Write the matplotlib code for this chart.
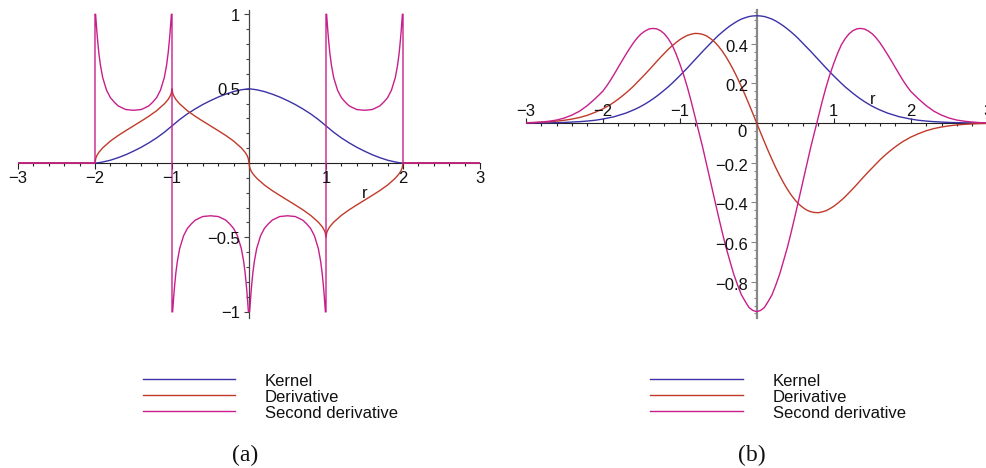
import numpy as np
import matplotlib
matplotlib.use("Agg")
import matplotlib.pyplot as plt
from matplotlib.lines import Line2D
from matplotlib.ticker import FixedLocator, MultipleLocator

W, H = 987, 468
nan = np.nan

plt.rcParams['font.family'] = ['Liberation Sans', 'DejaVu Sans']

KERNEL_COLOR = '#3a32a6'
DERIV_COLOR = '#c03a2a'
SECOND_COLOR = '#c81e8c'
series_labels = ['Kernel', 'Derivative', 'Second derivative']
series_colors = [KERNEL_COLOR, DERIV_COLOR, SECOND_COLOR]

# ---------------- panel (a): compactly supported kernel ----------------
a_kernel_r = [-3, -2, -1.95, -1.9, -1.8, -1.7, -1.6, -1.5, -1.4, -1.3, -1.2, -1.1, -1,
              -0.9, -0.8, -0.7, -0.6, -0.5, -0.4, -0.3, -0.2, -0.1, 0,
              0.1, 0.2, 0.3, 0.4, 0.5, 0.6, 0.7, 0.8, 0.9, 1,
              1.1, 1.2, 1.3, 1.4, 1.5, 1.6, 1.7, 1.8, 1.9, 1.95, 2, 3]
a_kernel_v = [0, 0, 0.0024, 0.007, 0.019, 0.036, 0.056, 0.080, 0.106, 0.136, 0.169, 0.207, 0.25,
              0.293, 0.331, 0.364, 0.394, 0.420, 0.444, 0.464, 0.481, 0.493, 0.5,
              0.493, 0.481, 0.464, 0.444, 0.420, 0.394, 0.364, 0.331, 0.293, 0.25,
              0.207, 0.169, 0.136, 0.106, 0.080, 0.056, 0.036, 0.019, 0.007, 0.0024, 0, 0]

a_deriv_r = [-3, -2, -1.99, -1.975, -1.95, -1.9, -1.8, -1.7, -1.6, -1.5, -1.4, -1.3, -1.2, -1.1, -1.05, -1.025, -1.01, -1,
             -0.99, -0.975, -0.95, -0.9, -0.8, -0.7, -0.6, -0.5, -0.4, -0.3, -0.2, -0.1, -0.05, -0.025, -0.01, 0,
             0.01, 0.025, 0.05, 0.1, 0.2, 0.3, 0.4, 0.5, 0.6, 0.7, 0.8, 0.9, 0.95, 0.975, 0.99, 1,
             1.01, 1.025, 1.05, 1.1, 1.2, 1.3, 1.4, 1.5, 1.6, 1.7, 1.8, 1.9, 1.95, 1.975, 1.99, 2, 3]
a_deriv_v = [0, 0, 0.032, 0.051, 0.072, 0.102, 0.148, 0.185, 0.218, 0.25, 0.282, 0.315, 0.352, 0.398, 0.428, 0.45, 0.468, 0.5,
             0.468, 0.45, 0.428, 0.398, 0.352, 0.315, 0.282, 0.25, 0.218, 0.185, 0.148, 0.102, 0.072, 0.051, 0.032, 0,
             -0.032, -0.051, -0.072, -0.102, -0.148, -0.185, -0.218, -0.25, -0.282, -0.315, -0.352, -0.398, -0.428, -0.45, -0.468, -0.5,
             -0.468, -0.45, -0.428, -0.398, -0.352, -0.315, -0.282, -0.25, -0.218, -0.185, -0.148, -0.102, -0.072, -0.051, -0.032, 0, 0]

# second derivative, cut at the plotting window |y| <= 1 (nan = break in the line)
a_second_r = [-3, -2, -2, nan,
              -1.992, -1.985, -1.975, -1.965, -1.95, -1.93, -1.9, -1.85, -1.8, -1.75, -1.7, -1.65, -1.6, -1.5,
              -1.4, -1.35, -1.3, -1.25, -1.2, -1.15, -1.1, -1.07, -1.05, -1.035, -1.025, -1.015, -1.008, nan,
              -1, -1, nan,
              -0.992, -0.985, -0.975, -0.965, -0.95, -0.93, -0.9, -0.85, -0.8, -0.75, -0.7, -0.65, -0.6, -0.5,
              -0.4, -0.35, -0.3, -0.25, -0.2, -0.15, -0.1, -0.07, -0.05, -0.035, -0.025, -0.015, -0.008,
              0.008, 0.015, 0.025, 0.035, 0.05, 0.07, 0.1, 0.15, 0.2, 0.25, 0.3, 0.35, 0.4, 0.5,
              0.6, 0.65, 0.7, 0.75, 0.8, 0.85, 0.9, 0.93, 0.95, 0.965, 0.975, 0.985, 0.992, nan,
              1, 1, nan,
              1.008, 1.015, 1.025, 1.035, 1.05, 1.07, 1.1, 1.15, 1.2, 1.25, 1.3, 1.35, 1.4, 1.5,
              1.6, 1.65, 1.7, 1.75, 1.8, 1.85, 1.9, 1.93, 1.95, 1.965, 1.975, 1.985, 1.992, nan,
              2, 2, 3]
a_second_v = [0, 0, 1.0, nan,
              1.0, 0.95, 0.88, 0.82, 0.74, 0.66, 0.575, 0.49, 0.44, 0.41, 0.385, 0.372, 0.36, 0.355,
              0.36, 0.372, 0.385, 0.41, 0.44, 0.49, 0.575, 0.66, 0.74, 0.82, 0.88, 0.95, 1.0, nan,
              1.0, -1.0, nan,
              -1.0, -0.95, -0.88, -0.82, -0.74, -0.66, -0.575, -0.49, -0.44, -0.41, -0.385, -0.372, -0.36, -0.355,
              -0.36, -0.372, -0.385, -0.41, -0.44, -0.49, -0.575, -0.66, -0.74, -0.82, -0.88, -0.95, -1.0,
              -1.0, -0.95, -0.88, -0.82, -0.74, -0.66, -0.575, -0.49, -0.44, -0.41, -0.385, -0.372, -0.36, -0.355,
              -0.36, -0.372, -0.385, -0.41, -0.44, -0.49, -0.575, -0.66, -0.74, -0.82, -0.88, -0.95, -1.0, nan,
              -1.0, 1.0, nan,
              1.0, 0.95, 0.88, 0.82, 0.74, 0.66, 0.575, 0.49, 0.44, 0.41, 0.385, 0.372, 0.36, 0.355,
              0.36, 0.372, 0.385, 0.41, 0.44, 0.49, 0.575, 0.66, 0.74, 0.82, 0.88, 0.95, 1.0, nan,
              1.0, 0, 0]

# ---------------- panel (b): smooth bell-shaped kernel ----------------
b_r = [-3.0, -2.9, -2.8, -2.7, -2.6, -2.5, -2.4, -2.3, -2.2, -2.1,
       -2.0, -1.95, -1.9, -1.85, -1.8, -1.75, -1.7, -1.65, -1.6, -1.55,
       -1.5, -1.45, -1.4, -1.35, -1.3, -1.25, -1.2, -1.15, -1.1, -1.05,
       -1.0, -0.95, -0.9, -0.85, -0.8, -0.75, -0.7, -0.65, -0.6, -0.55,
       -0.5, -0.45, -0.4, -0.35, -0.3, -0.25, -0.2, -0.15, -0.1, -0.05,
       0.0,
       0.05, 0.1, 0.15, 0.2, 0.25, 0.3, 0.35, 0.4, 0.45, 0.5,
       0.55, 0.6, 0.65, 0.7, 0.75, 0.8, 0.85, 0.9, 0.95, 1.0,
       1.05, 1.1, 1.15, 1.2, 1.25, 1.3, 1.35, 1.4, 1.45, 1.5,
       1.55, 1.6, 1.65, 1.7, 1.75, 1.8, 1.85, 1.9, 1.95, 2.0,
       2.1, 2.2, 2.3, 2.4, 2.5, 2.6, 2.7, 2.8, 2.9, 3.0]
b_kernel_v = [0.0003, 0.0005, 0.001, 0.001, 0.002, 0.003, 0.005, 0.007, 0.010, 0.014,
              0.020, 0.024, 0.028, 0.032, 0.038, 0.044, 0.050, 0.058, 0.066, 0.075,
              0.085, 0.096, 0.108, 0.121, 0.135, 0.150, 0.166, 0.182, 0.200, 0.219,
              0.238, 0.258, 0.278, 0.299, 0.320, 0.341, 0.362, 0.382, 0.402, 0.422,
              0.441, 0.458, 0.474, 0.489, 0.502, 0.514, 0.524, 0.531, 0.537, 0.540,
              0.541,
              0.540, 0.537, 0.531, 0.524, 0.514, 0.502, 0.489, 0.474, 0.458, 0.441,
              0.422, 0.402, 0.382, 0.362, 0.341, 0.320, 0.299, 0.278, 0.258, 0.238,
              0.219, 0.200, 0.182, 0.166, 0.150, 0.135, 0.121, 0.108, 0.096, 0.085,
              0.075, 0.066, 0.058, 0.050, 0.044, 0.038, 0.032, 0.028, 0.024, 0.020,
              0.014, 0.010, 0.007, 0.005, 0.003, 0.002, 0.001, 0.001, 0.0005, 0.0003]
b_deriv_v = [0.0018, 0.0028, 0.0043, 0.0065, 0.0096, 0.014, 0.020, 0.028, 0.039, 0.054,
             0.071, 0.082, 0.093, 0.106, 0.120, 0.135, 0.151, 0.168, 0.186, 0.206,
             0.226, 0.246, 0.267, 0.288, 0.310, 0.331, 0.351, 0.371, 0.389, 0.405,
             0.420, 0.432, 0.442, 0.448, 0.452, 0.451, 0.447, 0.439, 0.426, 0.410,
             0.389, 0.364, 0.335, 0.302, 0.266, 0.227, 0.185, 0.141, 0.095, 0.048,
             0.0,
             -0.048, -0.095, -0.141, -0.185, -0.227, -0.266, -0.302, -0.335, -0.364, -0.389,
             -0.410, -0.426, -0.439, -0.447, -0.451, -0.452, -0.448, -0.442, -0.432, -0.420,
             -0.405, -0.389, -0.371, -0.351, -0.331, -0.310, -0.288, -0.267, -0.246, -0.226,
             -0.206, -0.186, -0.168, -0.151, -0.135, -0.120, -0.106, -0.093, -0.082, -0.071,
             -0.054, -0.039, -0.028, -0.020, -0.014, -0.0096, -0.0065, -0.0043, -0.0028, -0.0018]
b_second_v = [0.001, 0.002, 0.005, 0.009, 0.015, 0.025, 0.040, 0.060, 0.088, 0.122,
              0.160, 0.186, 0.215, 0.247, 0.280, 0.313, 0.345, 0.376, 0.405, 0.430,
              0.450, 0.464, 0.474, 0.477, 0.475, 0.466, 0.450, 0.426, 0.395, 0.351,
              0.300, 0.244, 0.180, 0.108, 0.030, -0.047, -0.125, -0.210, -0.295, -0.380,
              -0.465, -0.547, -0.625, -0.693, -0.760, -0.815, -0.865, -0.899, -0.930, -0.945,
              -0.951,
              -0.945, -0.930, -0.899, -0.865, -0.815, -0.760, -0.693, -0.625, -0.547, -0.465,
              -0.380, -0.295, -0.210, -0.125, -0.047, 0.030, 0.108, 0.180, 0.244, 0.300,
              0.351, 0.395, 0.426, 0.450, 0.466, 0.475, 0.477, 0.474, 0.464, 0.450,
              0.430, 0.405, 0.376, 0.345, 0.313, 0.280, 0.247, 0.215, 0.186, 0.160,
              0.122, 0.088, 0.060, 0.040, 0.025, 0.015, 0.009, 0.005, 0.002, 0.001]

# tick labels
a_xtick_vals = [-3, -2, -1, 1, 2, 3]
a_xtick_text = ['\u22123', '\u22122', '\u22121', '1', '2', '3']
a_ytick_vals = [1, 0.5, -0.5, -1]
a_ytick_text = ['1', '0.5', '\u22120.5', '\u22121']
b_xtick_vals = [-3, -2, -1, 1, 2, 3]
b_xtick_text = ['\u22123', '\u22122', '\u22121', '1', '2', '3']
b_ytick_vals = [0.4, 0.2, -0.2, -0.4, -0.6, -0.8]
b_ytick_text = ['0.4', '0.2', '\u22120.2', '\u22120.4', '\u22120.6', '\u22120.8']

FS = 12

fig = plt.figure(figsize=(W / 100, H / 100), dpi=100)
fig.patch.set_facecolor('white')


def px_box(left, top, right, bottom):
    return [left / W, 1 - bottom / H, (right - left) / W, (bottom - top) / H]


def style_axes(ax, xlim, ylim, ycolor, ylw):
    ax.set_xlim(*xlim)
    ax.set_ylim(*ylim)
    ax.patch.set_visible(False)
    for s in ('top', 'right'):
        ax.spines[s].set_visible(False)
    ax.spines['bottom'].set_position(('data', 0))
    ax.spines['left'].set_position(('data', 0))
    ax.spines['bottom'].set_linewidth(0.8)
    ax.spines['bottom'].set_color('#222222')
    ax.spines['left'].set_linewidth(ylw)
    ax.spines['left'].set_color(ycolor)
    ax.tick_params(labelbottom=False, labelleft=False)
    ax.tick_params(axis='x', which='both', color='#222222', width=0.8)
    ax.tick_params(axis='y', which='both', color=ycolor, width=0.8)


def tick_label(ax, x, y, text, dx, dy, ha):
    ax.annotate(text, xy=(x, y), xytext=(dx, dy), textcoords='offset pixels',
                ha=ha, va='baseline', fontsize=FS, color='#111111', annotation_clip=False)


# ---- panel (a)
axA = fig.add_axes(px_box(18, 10, 480, 318.3))
style_axes(axA, (-3, 3), (-1.045, 1.03), '#444444', 0.9)
axA.xaxis.set_major_locator(FixedLocator([-3, -2, -1, 0, 1, 2, 3]))
axA.xaxis.set_minor_locator(MultipleLocator(0.2))
axA.yaxis.set_major_locator(FixedLocator([-1, -0.5, 0.5, 1]))
axA.yaxis.set_minor_locator(MultipleLocator(0.1))
axA.tick_params(axis='x', which='major', direction='out', length=4.3)
axA.tick_params(axis='x', which='minor', direction='out', length=2.2)
axA.tick_params(axis='y', which='major', direction='out', length=3.6)
axA.tick_params(axis='y', which='minor', direction='out', length=2.2)

axA.plot(a_kernel_r, a_kernel_v, color=KERNEL_COLOR, lw=1.0, zorder=3)
axA.plot(a_deriv_r, a_deriv_v, color=DERIV_COLOR, lw=1.0, zorder=3)
axA.plot(a_second_r, a_second_v, color=SECOND_COLOR, lw=1.0, zorder=3)

for v, t in zip(a_xtick_vals, a_xtick_text):
    tick_label(axA, v, 0, t, 0, -20, 'center')
for v, t in zip(a_ytick_vals, a_ytick_text):
    tick_label(axA, 0, v, t, -9, -6.5, 'right')
axA.text(1.5, -0.232, 'r', ha='center', va='baseline', fontsize=FS, color='#111111')

# ---- panel (b)
axB = fig.add_axes(px_box(525.7, 10, 987.7, 318))
style_axes(axB, (-3, 3), (-0.983, 0.57), '#888888', 1.6)
axB.xaxis.set_major_locator(FixedLocator([-3, -2, -1, 0, 1, 2, 3]))
axB.xaxis.set_minor_locator(MultipleLocator(0.2))
axB.yaxis.set_major_locator(MultipleLocator(0.2))
axB.yaxis.set_minor_locator(MultipleLocator(0.04))
axB.tick_params(axis='x', which='major', direction='in', length=3.6)
axB.tick_params(axis='x', which='minor', direction='out', length=2.2)
axB.tick_params(axis='y', which='major', direction='out', length=4.3)
axB.tick_params(axis='y', which='minor', direction='out', length=2.2)

axB.plot(b_r, b_kernel_v, color=KERNEL_COLOR, lw=1.0, zorder=3)
axB.plot(b_r, b_deriv_v, color=DERIV_COLOR, lw=1.0, zorder=3)
axB.plot(b_r, b_second_v, color=SECOND_COLOR, lw=1.0, zorder=3)

for v, t in zip(b_xtick_vals, b_xtick_text):
    tick_label(axB, v, 0, t, 0, 7, 'center')
for v, t in zip(b_ytick_vals, b_ytick_text):
    tick_label(axB, 0, v, t, -8.7, -8, 'right')
tick_label(axB, 0, 0, '0', -10, -13.7, 'right')
axB.text(1.5, 0.096, 'r', ha='center', va='baseline', fontsize=FS, color='#111111')

# ---- legends and captions
legend_rows_y = [379.3, 395, 411]
for x0, x1, tx in [(143, 235, 265), (650, 743, 773)]:
    for lbl, col, yy in zip(series_labels, series_colors, legend_rows_y):
        fig.add_artist(Line2D([x0 / W, x1 / W], [1 - yy / H, 1 - yy / H], color=col, lw=1.0,
                              transform=fig.transFigure))
        fig.text(tx / W, 1 - (yy + 6.7) / H, lbl, ha='left', va='baseline', fontsize=FS, color='#111111')

for cx, cap in [(245, '(a)'), (752, '(b)')]:
    fig.text(cx / W, 1 - 461 / H, cap, ha='center', va='baseline', fontsize=17,
             family=['Liberation Serif', 'DejaVu Serif'], color='#111111')

fig.savefig('out.png', dpi=100, facecolor='white')
